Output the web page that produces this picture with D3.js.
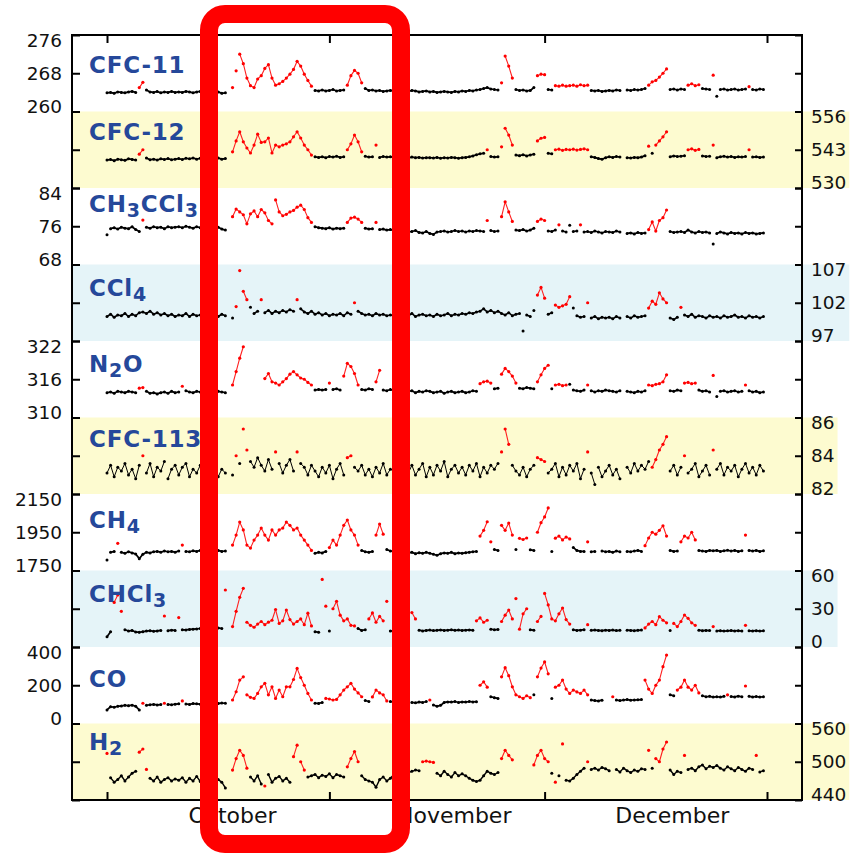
<!DOCTYPE html>
<html><head><meta charset="utf-8">
<script src="https://cdn.jsdelivr.net/npm/d3@7"></script>
<style>html,body{margin:0;padding:0;background:#fff;}svg{display:block;}</style>
</head><body>
<svg id="chart" width="859" height="853"></svg>
<script>
// ---------------- DATA ----------------
// time step between values: half a day, first value on 1 October
const stepDays = 0.5;
const monthTickDays = [0, 31, 61, 92];
const monthLabels = ["October", "November", "December"];
const monthLabelDays = [17.5, 48.4, 78.8];

const speciesLabels = [
  [["CFC-11",0]], [["CFC-12",0]], [["CH",0],["3",1],["CCl",0],["3",1]], [["CCl",0],["4",1]],
  [["N",0],["2",1],["O",0]], [["CFC-113",0]], [["CH",0],["4",1]], [["CHCl",0],["3",1]],
  [["CO",0]], [["H",0],["2",1]]
];
const panelDomains = [[260,276],[530,556],[68,84],[97,107],[310,322],[82,86],[1750,2150],[0,60],[0,400],[440,560]];
const panelTickLabels = [["276","268","260"],["556","543","530"],["84","76","68"],["107","102","97"],["322","316","310"],
  ["86","84","82"],["2150","1950","1750"],["60","30","0"],["400","200","0"],["560","500","440"]];
const labelSide = ["left","right","left","right","left","right","left","right","left","right"];
const panelShade = [null,"yellow",null,"blue",null,"yellow",null,"blue",null,"yellow"];

const cfc11 = [
263.9,264.0,263.8,264.1,264.0,263.9,264.1,264.2,264.0,265.0,
266.1,264.5,264.1,264.0,264.2,263.9,264.1,264.0,264.2,264.0,
264.1,264.0,264.2,264.1,263.9,264.1,264.2,264.0,264.1,264.2,
264.0,264.1,263.8,263.9,null,265.0,268.5,272.0,270.0,267.0,
265.4,265.0,266.8,267.5,269.0,269.8,267.0,265.5,265.8,266.3,
267.0,267.8,268.8,270.5,269.5,267.8,266.5,265.3,264.4,264.3,
264.5,264.3,264.4,264.6,264.3,264.4,264.5,265.5,267.5,268.6,
268.0,266.0,264.8,264.4,264.5,264.3,264.4,264.2,264.3,264.4,
264.3,264.4,264.2,264.3,264.2,264.4,264.3,264.1,264.2,264.3,
264.1,264.2,264.0,264.1,264.2,264.1,264.0,264.2,264.1,264.3,
264.2,264.4,264.3,264.5,264.6,264.8,265.0,264.7,264.6,264.5,
266.0,271.6,269.5,267.0,264.6,264.4,264.5,264.3,264.4,265.0,
267.5,267.8,267.7,264.6,264.5,265.4,265.3,265.5,265.3,265.4,
265.5,265.3,265.6,265.4,265.5,264.4,264.3,264.4,264.2,264.3,
264.4,264.3,264.5,264.4,null,264.5,264.4,264.6,264.5,264.6,
264.8,265.5,266.2,266.5,267.2,268.0,268.9,264.6,264.7,264.5,
264.7,264.6,265.5,265.8,265.4,265.6,264.8,264.7,264.6,267.6,
263.2,264.6,264.7,264.5,264.6,264.7,264.5,264.6,264.7,265.2,
264.6,264.5,264.7,264.6];
const cfc11Red = [[9,10],[35,57],[67,71],[110,113],[120,122],[125,134],[151,156],[162,165],[169,169],[179,179]];

const cfc12 = [
539.5,539.7,539.3,539.8,539.6,539.4,539.9,539.7,539.5,541.5,
543.0,540.2,539.6,539.8,539.5,539.9,539.7,540.0,539.6,539.8,
540.0,539.7,540.1,539.9,540.2,539.8,540.1,540.0,540.3,540.1,
539.9,540.2,539.8,540.0,null,542.3,546.0,549.1,545.7,543.6,
541.9,544.6,548.3,545.5,545.7,547.0,541.9,544.6,544.0,544.6,
545.0,545.7,547.4,549.1,547.0,544.6,543.0,541.2,540.6,540.4,
540.6,540.3,540.7,540.5,540.8,540.4,540.6,543.0,545.0,548.0,
545.7,542.3,540.8,540.5,540.6,544.6,540.4,540.7,540.5,540.6,
540.5,540.3,540.6,540.4,540.2,540.5,540.3,540.4,540.2,540.3,
540.3,540.2,540.4,540.1,540.3,540.2,540.4,540.3,540.1,540.3,
540.4,540.6,540.9,541.3,541.6,541.8,543.0,540.7,540.5,540.6,
544.0,550.3,548.0,544.6,541.2,541.0,541.3,540.9,541.2,541.5,
546.0,546.9,547.2,541.8,541.6,543.0,543.2,542.8,543.1,543.0,
543.2,542.9,543.1,543.3,543.0,540.6,540.4,540.0,539.8,540.3,
540.6,540.4,540.7,540.5,null,540.3,540.2,540.4,540.3,540.5,
541.0,544.2,541.8,544.6,546.0,547.4,549.1,540.6,540.9,540.7,
540.8,541.0,543.0,543.3,542.8,543.1,540.9,540.7,540.8,544.6,
540.3,540.6,540.8,540.5,540.7,540.4,540.6,540.5,540.7,543.0,
540.5,540.6,540.4,540.5];
const cfc12Red = [[9,10],[35,57],[67,71],[75,75],[106,106],[110,113],[120,122],[125,134],[151,151],[153,156],[162,165],[169,169],[179,179]];

const ch3ccl3 = [
74.2,75.5,75.7,75.4,75.8,75.6,75.5,75.9,75.3,74.9,
77.3,75.8,75.6,75.9,75.7,75.8,75.5,75.9,75.7,75.8,
75.9,75.7,76.0,75.8,75.6,75.9,75.7,75.8,75.6,75.9,
75.7,75.8,75.4,75.2,null,78.0,79.6,79.0,78.4,76.5,
78.6,79.2,78.0,79.5,78.8,77.2,76.5,81.5,79.0,78.2,
78.5,79.0,79.3,80.0,80.4,79.5,77.8,76.8,75.9,75.7,
75.6,75.5,75.7,75.4,75.6,75.5,75.6,76.8,77.7,77.9,
77.5,76.8,75.6,75.4,75.5,76.8,75.3,75.4,75.2,75.3,
75.1,75.2,74.9,75.0,74.8,74.9,75.1,74.7,74.6,74.9,
74.5,74.3,74.8,74.9,75.0,74.8,74.9,75.1,74.9,75.0,
74.8,75.0,74.9,75.1,75.0,74.9,77.2,75.1,74.9,75.0,
78.0,81.1,79.0,77.0,75.2,75.1,75.3,75.0,75.2,75.6,
77.0,77.5,77.2,75.0,74.9,75.2,76.3,75.0,74.8,76.2,
74.9,75.0,76.3,74.8,74.9,74.7,75.0,74.8,74.6,74.9,
74.8,74.7,75.0,74.8,null,74.5,74.6,74.4,74.7,74.5,
74.6,75.3,76.9,75.0,77.2,77.8,79.4,74.9,74.7,74.8,
74.9,74.7,75.2,74.8,74.6,74.9,74.7,74.8,74.6,72.3,
74.5,74.8,74.6,74.4,74.7,74.5,74.6,74.4,74.7,74.5,
74.6,74.4,74.5,74.6];
const ch3ccl3Red = [[10,10],[35,57],[67,71],[75,75],[106,106],[110,113],[120,122],[126,126],[132,132],[151,156]];

const ccl4 = [
100.2,100.5,100.1,100.4,100.3,100.6,100.2,100.5,100.3,100.7,
100.8,100.6,100.9,100.5,100.7,100.4,100.6,100.3,100.5,100.2,
100.4,100.3,100.6,100.2,100.5,100.3,100.4,100.1,100.5,100.3,
100.4,100.2,100.5,100.3,null,100.0,101.5,106.2,103.5,102.4,
101.4,100.6,100.9,102.4,100.7,101.0,100.6,100.9,100.7,101.0,
100.8,101.1,100.9,102.4,101.2,100.8,100.6,100.9,100.5,100.7,
100.4,100.6,100.3,100.5,100.4,100.6,100.3,100.7,100.5,102.0,
100.9,100.6,100.4,100.5,100.3,100.6,100.4,100.5,100.3,100.4,
100.3,100.5,100.2,100.4,100.3,100.6,100.2,100.4,100.5,100.3,
100.4,100.2,100.5,100.3,100.4,100.6,100.3,100.5,100.4,100.6,
100.5,100.7,100.6,100.8,100.9,101.2,100.8,101.0,100.7,100.9,
100.6,100.4,100.7,100.3,100.5,100.6,98.3,100.4,100.2,101.0,
103.0,104.0,102.6,100.5,100.7,101.7,101.4,101.6,101.8,102.8,
101.3,100.3,100.1,100.2,102.0,100.0,100.2,99.9,100.1,100.0,
100.1,99.9,100.2,100.0,null,100.2,100.0,100.3,100.1,100.2,
100.3,101.3,102.2,101.8,103.3,102.5,102.0,100.0,99.8,100.1,
101.4,100.4,100.2,100.5,100.1,100.3,100.2,100.0,100.3,100.1,
100.2,100.0,100.3,100.1,100.2,100.4,100.1,100.2,100.0,100.3,
100.1,100.2,100.0,100.2];
const ccl4Red = [[36,39],[43,43],[53,53],[69,69],[120,122],[125,129],[134,134],[151,156],[160,160]];

const n2o = [
313.9,314.0,313.8,314.1,314.0,313.9,314.1,314.0,313.9,314.6,
314.7,314.1,313.8,313.9,313.7,313.9,314.0,313.8,314.1,313.9,
314.0,314.9,314.2,314.0,313.9,314.1,314.0,313.9,314.1,314.0,
313.9,314.1,314.0,313.9,null,315.1,317.2,319.3,321.1,null,
null,null,null,null,316.1,316.9,315.6,315.4,315.1,315.6,
316.1,316.8,317.2,316.7,316.2,316.0,315.5,315.1,314.3,314.4,
314.3,314.4,315.4,314.4,314.5,314.3,316.5,318.5,318.0,316.9,
315.1,314.4,314.3,314.5,314.4,315.6,317.4,314.3,314.2,314.4,
314.2,314.1,314.3,314.0,314.1,314.2,313.9,314.1,314.0,314.2,
314.1,313.9,314.0,314.1,313.8,314.0,314.1,313.9,314.0,314.1,
313.9,314.0,314.2,314.1,315.3,315.6,315.7,315.4,314.5,314.6,
316.8,317.7,317.2,316.5,315.4,314.6,314.5,314.7,314.6,314.5,
315.6,316.7,317.7,318.2,314.5,315.1,315.2,315.0,315.1,315.2,
314.3,314.2,314.1,314.3,315.1,314.2,314.0,314.2,314.1,314.3,
314.2,314.1,314.0,314.2,null,314.1,314.0,313.9,314.1,314.0,
314.2,315.1,315.0,315.2,315.3,315.6,316.7,314.2,314.1,314.3,
314.2,315.4,315.5,315.3,315.4,314.3,314.1,314.2,314.0,316.6,
313.3,314.1,314.2,314.0,314.1,314.2,314.0,314.1,315.1,314.2,
314.0,314.1,313.9,314.0];
const n2oRed = [[9,10],[21,21],[35,38],[44,57],[62,62],[66,70],[75,76],[104,107],[110,114],[120,123],[125,128],[134,134],[151,156],[161,164],[169,169],[178,178]];

const cfc113 = [
83.1,83.5,82.9,83.4,83.2,83.6,83.0,83.3,82.8,83.5,
84.0,83.1,83.6,82.9,83.4,83.2,83.7,82.8,83.3,83.5,
83.0,83.4,83.6,82.9,83.3,83.1,83.5,83.0,83.4,83.2,
83.5,82.9,83.3,83.1,null,83.0,84.0,83.6,85.4,84.3,
83.7,83.4,83.9,83.5,83.2,83.8,83.3,84.2,83.6,83.1,
83.5,83.8,83.2,84.2,83.6,83.4,83.0,83.5,83.2,82.9,
83.4,83.1,83.5,82.8,83.3,83.6,83.0,83.9,84.0,83.4,
83.2,83.5,83.0,83.3,82.9,83.4,83.1,83.6,83.0,83.3,
83.2,83.6,82.9,83.4,83.1,83.5,83.0,83.3,83.6,82.9,
83.4,83.0,83.5,83.2,83.7,82.9,83.3,83.5,83.1,83.4,
83.0,83.5,83.2,83.6,82.9,83.4,83.1,83.5,83.3,83.6,
84.2,85.4,84.6,83.5,83.2,83.0,83.4,82.9,83.3,83.5,
83.9,83.8,83.7,83.1,83.3,83.6,82.9,83.4,83.0,83.5,
83.2,83.6,82.8,83.3,84.2,83.1,82.5,83.4,82.9,83.2,
83.5,83.0,83.3,82.8,null,83.4,83.1,83.6,83.2,83.5,
83.3,83.7,83.4,83.8,84.3,84.6,85.0,83.2,83.5,83.0,
83.4,84.0,83.1,83.3,83.6,82.9,83.2,83.5,83.0,84.3,
83.3,83.6,83.0,83.4,83.2,83.5,82.9,83.3,83.6,83.1,
83.4,83.0,83.5,83.2];
const cfc113Red = [[10,10],[36,36],[38,39],[47,47],[53,53],[67,68],[110,112],[120,122],[134,134],[152,156],[161,161],[169,169]];

const ch4 = [
1805,1845,1850,1892,1845,1840,1848,1842,1836,1812,
1835,1845,1842,1848,1850,1846,1852,1848,1850,1846,
1852,1883,1850,1848,1853,1850,1855,1852,1856,1850,
1853,1855,1850,1852,null,1883,1935,2003,1962,1883,
1867,1909,1935,1972,1935,1909,1962,1935,1962,1972,
2003,1986,1962,1972,1935,1909,1883,1855,1840,1845,
1842,1850,1870,1909,1883,1935,1986,2014,1962,1935,
1883,1855,1848,1845,1850,1935,1993,1940,1860,1852,
1850,1848,1845,1840,1842,1845,1838,1843,1840,1845,
1840,1835,1830,1838,1842,1840,1845,1838,1842,1840,
1843,1845,1848,1850,1930,1960,2005,1900,1860,1855,
1986,1960,1998,1935,1860,1918,1912,1920,1858,1855,
1950,2000,2030,2077,1850,1919,1930,1910,1925,1915,
1870,1855,1850,1850,1900,1848,1850,null,1852,1848,
1850,1845,1852,1848,null,1850,1848,1852,1855,1850,
1880,1920,1950,1940,1960,1984,1930,1855,1850,1852,
1900,1930,1920,1950,1910,1855,1852,1850,1855,1853,
1855,1850,1853,1856,1852,1855,1850,1853,1935,1855,
1852,1855,1850,1853];
const ch4Red = [[3,3],[21,21],[35,57],[62,70],[75,77],[104,107],[110,113],[115,117],[120,123],[125,129],[134,134],[150,156],[160,164],[178,178]];

const chcl3 = [
8.1,12.0,35.0,40.8,28.0,13.5,12.5,13.0,11.8,11.5,
12.0,12.5,12.8,12.3,12.6,13.0,24.3,12.8,13.2,13.0,
23.1,13.5,13.4,13.8,14.0,14.2,14.5,14.3,14.8,14.9,
14.6,15.0,14.5,44.7,null,16.0,28.0,39.0,46.0,19.4,
17.0,15.5,18.0,20.0,17.5,19.5,21.0,29.4,18.5,20.5,
29.0,21.5,18.0,20.0,22.0,17.5,26.5,16.5,12.0,11.5,
53.0,32.0,12.5,30.0,35.8,25.0,20.5,22.0,17.0,16.5,
14.5,13.0,13.5,22.0,26.7,19.4,24.0,20.5,35.8,12.5,
12.8,13.0,13.5,13.0,12.8,27.0,22.0,13.2,12.6,13.0,
13.3,12.9,13.1,13.4,13.0,13.2,13.5,13.1,13.3,13.0,
13.2,13.4,13.1,20.5,22.8,19.4,21.0,14.0,13.5,13.8,
20.0,25.0,29.0,22.0,38.0,14.0,26.0,30.0,13.5,13.2,
20.0,24.0,42.0,33.0,22.0,20.5,26.0,30.6,21.5,18.0,
13.5,13.0,13.2,13.6,17.5,13.1,13.3,13.0,12.8,13.2,
13.0,13.3,12.9,13.1,null,13.2,13.0,12.8,13.1,13.3,
15.0,18.0,20.0,17.5,23.8,21.0,19.0,13.0,18.5,16.0,
20.0,25.1,22.5,19.0,17.0,13.2,12.8,13.0,12.9,16.0,
12.6,12.8,12.5,12.7,12.9,12.6,12.8,12.5,17.0,12.7,
12.6,12.8,12.5,12.7];
const chcl3Red = [[2,4],[16,16],[20,20],[33,33],[35,57],[60,61],[63,69],[73,78],[85,86],[103,106],[110,117],[120,129],[134,134],[150,156],[158,164],[169,169],[178,178]];

const co = [
71,88,85,90,92,95,93,96,90,71,
106,95,98,100,97,99,106,100,98,101,
103,118,102,100,104,103,101,105,103,104,
106,105,107,106,null,123,166,227,244,150,
137,131,157,192,210,150,192,131,175,140,
192,192,230,288,240,200,157,123,106,105,
110,131,128,123,126,150,175,192,210,180,
160,140,120,115,139,175,160,150,118,115,
112,110,108,113,123,110,108,112,110,115,
123,97,90,95,110,113,112,115,110,113,
112,115,113,114,200,218,190,140,135,131,
244,292,250,192,150,140,131,145,135,150,
244,290,322,260,131,190,200,227,180,157,
175,165,157,175,150,123,120,118,122,null,
null,140,123,120,123,125,122,123,124,125,
227,180,157,200,227,297,358,150,145,175,
190,227,190,175,200,160,145,140,142,138,
140,138,142,150,141,139,143,140,196,142,
139,141,138,140];
const coRed = [[10,10],[16,16],[21,21],[35,57],[61,71],[74,78],[84,84],[90,90],[104,106],[110,118],[120,123],[125,134],[141,141],[150,156],[159,165],[173,173],[178,178]];

const h2 = [
513,475,468,472,478,470,476,482,485,515,
520,488,474,470,476,468,472,475,470,473,
471,475,468,474,470,477,469,473,466,471,
475,472,468,459,null,487,505,518,510,490,
476,470,478,465,462,480,468,474,477,470,
474,468,508,526,500,487,476,478,480,475,
479,477,481,475,480,478,476,492,505,516,
500,478,472,470,468,460,472,476,470,474,
480,478,482,484,483,485,487,486,500,501,
500,499,482,478,485,480,476,483,478,481,
478,474,471,469,471,478,485,482,480,483,
505,518,510,503,null,null,null,null,null,495,
510,518,505,500,482,468,478,528,471,470,
474,480,485,490,500,488,490,487,491,489,
486,null,488,484,490,486,483,487,485,489,
488,518,490,505,500,520,531,487,480,485,
483,510,488,490,486,492,495,489,493,491,
494,490,487,492,489,486,491,488,485,490,
488,510,484,486];
const h2Red = [[0,0],[9,11],[35,39],[44,44],[52,55],[67,70],[88,91],[110,113],[119,123],[125,125],[127,127],[134,134],[151,151],[153,156],[161,161],[181,181]];

const seriesValues = [cfc11, cfc12, ch3ccl3, ccl4, n2o, cfc113, ch4, chcl3, co, h2];
const seriesRed = [cfc11Red, cfc12Red, ch3ccl3Red, ccl4Red, n2oRed, cfc113Red, ch4Red, chcl3Red, coRed, h2Red];

// ---------------- DRAWING ----------------
const svg = d3.select("#chart");
const frame = {left: 72, right: 802, top: 35, bottom: 800};
const FONT = "'DejaVu Sans', Verdana, sans-serif";
const shadeColor = {yellow: "#FDFBD0", blue: "#E5F4F8"};
const labelBaselineOffset = [38, 28, 23.7, 31.5, 30.7, 29.2, 34.3, 31, 39.7, 26.5];
// max pixel jump joined by a stroke for the black samples, and stroke width, per panel
const blackJoin = [5, 5, 5, 6, 5, 16, 5, 5, 5, 9];
const blackStroke = [1.7, 1.7, 1.7, 1.6, 1.7, 1.0, 1.7, 1.7, 1.7, 1.4];

const x = d3.scaleLinear().domain([0, 92]).range([107, 767]);
const band = d3.scaleBand().domain(d3.range(10)).range([frame.top, frame.bottom]);

const gBg = svg.append("g");
const gData = svg.append("g");
const gAxes = svg.append("g");
const gText = svg.append("g");

panelDomains.forEach((dom, k) => {
  const top = band(k), bottom = top + band.bandwidth();
  const y = d3.scaleLinear().domain(dom).range([bottom, top]);
  const tickVals = [dom[1], (dom[0] + dom[1]) / 2, dom[0]];

  // tick labels
  const side = labelSide[k];
  const nudges = [5, 0, -5.5];
  const lg = gText.append("g");
  tickVals.forEach((v, j) => {
    lg.append("text")
      .attr("x", side === "left" ? 62 : 811)
      .attr("y", y(v) + nudges[j])
      .attr("text-anchor", side === "left" ? "end" : "start")
      .attr("dominant-baseline", "central")
      .attr("font-family", FONT).attr("font-size", 18.5).attr("fill", "#111")
      .text(panelTickLabels[k][j]);
  });

  // background band
  if (panelShade[k]) {
    let right = frame.right;
    if (side === "right") {
      lg.selectAll("text").each(function() { const b = this.getBBox(); right = Math.max(right, b.x + b.width + 3); });
    }
    gBg.append("rect").attr("x", frame.left).attr("y", top)
      .attr("width", right - frame.left).attr("height", bottom - top)
      .attr("fill", shadeColor[panelShade[k]]);
  }

  // axis ticks (inward) on both sides
  gAxes.append("g").attr("transform", `translate(${frame.left},0)`)
    .call(d3.axisLeft(y).tickValues(tickVals).tickSize(-8).tickFormat(""))
    .call(g => g.select(".domain").remove())
    .call(g => g.selectAll("line").attr("stroke", "#000").attr("stroke-width", 2));
  gAxes.append("g").attr("transform", `translate(${frame.right},0)`)
    .call(d3.axisRight(y).tickValues(tickVals).tickSize(-7).tickFormat(""))
    .call(g => g.select(".domain").remove())
    .call(g => g.selectAll("line").attr("stroke", "#000").attr("stroke-width", 2));

  // species label
  const t = gText.append("text").attr("x", 89).attr("y", top + labelBaselineOffset[k])
    .attr("font-family", FONT).attr("font-weight", "bold").attr("font-size", 23)
    .attr("letter-spacing", 0.8).attr("fill", "#25489A");
  let shifted = false;
  speciesLabels[k].forEach(([s, sub]) => {
    const ts = t.append("tspan").text(s);
    if (sub) { ts.attr("font-size", 19).attr("dy", shifted ? 0 : 5); shifted = true; }
    else { ts.attr("dy", shifted ? -5 : 0); shifted = false; }
  });

  // data
  const reds = seriesRed[k];
  const pts = seriesValues[k].map((v, i) => ({
    day: i * stepDays, v: v,
    red: reds.some(r => i >= r[0] && i <= r[1])
  }));
  // short connecting strokes between neighbouring samples of the same kind
  const segs = [];
  for (let i = 1; i < pts.length; i++) {
    const a = pts[i - 1], b = pts[i];
    if (a.v == null || b.v == null || a.red !== b.red) continue;
    const dy = Math.abs(y(a.v) - y(b.v));
    if (dy > (a.red ? 16 : blackJoin[k])) continue;
    segs.push({a, b, red: a.red});
  }
  gData.selectAll(null).data(segs).enter().append("line")
    .attr("x1", d => x(d.a.day)).attr("y1", d => y(d.a.v))
    .attr("x2", d => x(d.b.day)).attr("y2", d => y(d.b.v))
    .attr("stroke", d => d.red ? "#ff2020" : "#000")
    .attr("stroke-width", d => d.red ? 1.1 : blackStroke[k])
    .attr("stroke-linecap", "round");
  gData.selectAll(null).data(pts.filter(d => d.v != null)).enter().append("circle")
    .attr("cx", d => x(d.day)).attr("cy", d => y(d.v)).attr("r", d => d.red ? 1.6 : 1.5)
    .attr("fill", d => d.red ? "#ff0000" : "#000");
});

// top & bottom month ticks
gAxes.append("g").attr("transform", `translate(0,${frame.top})`)
  .call(d3.axisTop(x).tickValues(monthTickDays).tickSize(-8).tickFormat(""))
  .call(g => g.select(".domain").remove())
  .call(g => g.selectAll("line").attr("stroke", "#000").attr("stroke-width", 2));
gAxes.append("g").attr("transform", `translate(0,${frame.bottom})`)
  .call(d3.axisBottom(x).tickValues(monthTickDays).tickSize(-8).tickFormat(""))
  .call(g => g.select(".domain").remove())
  .call(g => g.selectAll("line").attr("stroke", "#000").attr("stroke-width", 2));

// frame
gAxes.append("rect").attr("x", frame.left).attr("y", frame.top)
  .attr("width", frame.right - frame.left).attr("height", frame.bottom - frame.top)
  .attr("fill", "none").attr("stroke", "#000").attr("stroke-width", 2);

// month labels
gText.selectAll(null).data(monthLabels).enter().append("text")
  .attr("x", (d, i) => x(monthLabelDays[i])).attr("y", 823)
  .attr("text-anchor", "middle").attr("font-family", FONT).attr("font-size", 22).attr("fill", "#111")
  .text(d => d);

// highlight frame
svg.append("rect").attr("x", 209).attr("y", 14).attr("width", 192).attr("height", 830)
  .attr("rx", 16).attr("ry", 16).attr("fill", "none").attr("stroke", "#ff0000").attr("stroke-width", 18);
</script>
</body></html>
